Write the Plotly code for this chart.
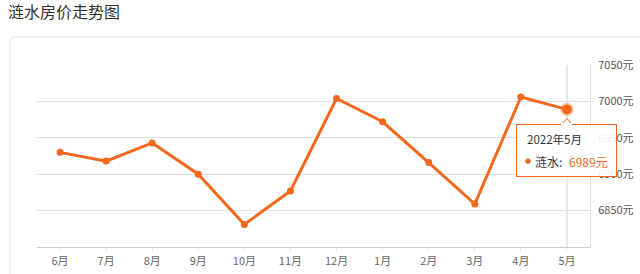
import plotly.graph_objects as go

months = ["6月", "7月", "8月", "9月", "10月", "11月", "12月", "1月", "2月", "3月", "4月", "5月"]
prices = [6930, 6918, 6943, 6900, 6831, 6877, 7004, 6972, 6916, 6859, 7006, 6989]
y_ticks = [6850, 6900, 6950, 7000, 7050]
y_tick_text = [f"{v}元" for v in y_ticks]
series_name = "涟水"
title_text = "涟水房价走势图"
tip_label = "2022年5月"

ORANGE = "#f2691d"
GRID = "#e0e0e0"
FONT = "Noto Sans CJK SC"

W, H = 640, 274
ML, MR, MT, MB = 37, 50, 65, 27
PW, PH = W - ML - MR, H - MT - MB

def px(x):
    return (x - ML) / PW

def py(y):
    return (H - MB - y) / PH

fig = go.Figure()
fig.add_trace(go.Scatter(
    x=months, y=prices, mode="lines+markers",
    line=dict(color=ORANGE, width=3),
    marker=dict(size=7, color=ORANGE),
    name=series_name, hoverinfo="skip",
))
last = len(months) - 1
fig.add_trace(go.Scatter(
    x=[months[last]], y=[prices[last]], mode="markers",
    marker=dict(size=10, color=ORANGE, line=dict(width=4, color="rgba(242,105,29,0.3)")),
    hoverinfo="skip", showlegend=False,
))

shapes = []
# card border (rounded top-left corner)
x0, yt = px(10), py(37)
rx, ry = 4 / PW, 4 / PH
shapes.append(dict(
    type="path", xref="paper", yref="paper", layer="below",
    path=f"M {x0},{py(290)} L {x0},{yt - ry} Q {x0},{yt} {x0 + rx},{yt} L {px(660)},{yt}",
    line=dict(color="#e6e6e6", width=1),
))
# axis pointer
shapes.append(dict(
    type="line", xref="x", yref="paper", x0=last, x1=last, y0=0, y1=1,
    line=dict(color="#cfcfcf", width=1), layer="below",
))
# tooltip notch
shapes.append(dict(
    type="path", xref="x", yref="y", xsizemode="pixel", ysizemode="pixel",
    xanchor=last, yanchor=prices[last], layer="above",
    path="M -6,-16 L 0,-9 L 6,-16 Z",
    fillcolor="white", line=dict(color=ORANGE, width=1),
))

annotations = [
    # tooltip box
    dict(xref="x", yref="y", x=last, y=prices[last], yshift=-15,
         xanchor="center", yanchor="top", showarrow=False, text=" ",
         width=99, height=51, borderpad=0, borderwidth=1,
         bordercolor=ORANGE, bgcolor="rgba(255,255,255,0.9)"),
    # cover border under notch
    dict(xref="x", yref="y", x=last, y=prices[last], yshift=-15,
         xanchor="center", yanchor="middle", showarrow=False, text=" ",
         width=11, height=2, borderpad=0, borderwidth=0, bgcolor="white",
         font=dict(size=1)),
    dict(xref="x", yref="y", x=last, y=prices[last], xshift=-42, yshift=-30,
         xanchor="left", yanchor="middle", showarrow=False, text=tip_label,
         font=dict(family=FONT, size=11.5, color="#333")),
    dict(xref="x", yref="y", x=last, y=prices[last], xshift=-39, yshift=-52,
         xanchor="center", yanchor="middle", showarrow=False, text="●",
         font=dict(family="DejaVu Sans", size=7, color=ORANGE)),
    dict(xref="x", yref="y", x=last, y=prices[last], xshift=-34, yshift=-52,
         xanchor="left", yanchor="middle", showarrow=False,
         text=f"{series_name}:",
         font=dict(family=FONT, size=12, color="#333")),
    dict(xref="x", yref="y", x=last, y=prices[last], xshift=43, yshift=-52,
         xanchor="right", yanchor="middle", showarrow=False,
         text=f"{prices[last]}元",
         font=dict(family=FONT, size=12, color=ORANGE)),
]

fig.update_layout(
    width=W, height=H,
    margin=dict(l=ML, r=MR, t=MT, b=MB, autoexpand=False),
    paper_bgcolor="white", plot_bgcolor="white",
    showlegend=False, hovermode=False,
    font=dict(family=FONT, size=11, color="#555"),
    title=dict(text=title_text, xref="container", yref="container",
               x=8 / W, y=1 - 12 / H, xanchor="left", yanchor="middle",
               font=dict(family=FONT, size=16, color="#333")),
    shapes=shapes, annotations=annotations,
    xaxis=dict(
        type="category", range=[-0.5, len(months) - 0.5], automargin=False,
        showgrid=False, showline=True, linecolor="#cccccc", linewidth=1,
        ticks="outside", ticklen=3, tickcolor="#e6e6e6",
        ticklabelstandoff=1,
        tickfont=dict(family=FONT, size=11, color="#666"),
        zeroline=False, fixedrange=True,
    ),
    yaxis=dict(
        side="right", range=[6800, 7050], tickvals=y_ticks, ticktext=y_tick_text,
        automargin=False,
        showgrid=True, gridcolor=GRID, showline=True, linecolor=GRID,
        ticks="outside", ticklen=5, tickcolor="rgba(0,0,0,0)",
        tickfont=dict(family=FONT, size=11, color="#555"),
        zeroline=False, fixedrange=True,
    ),
)

fig.write_html("out.html")
